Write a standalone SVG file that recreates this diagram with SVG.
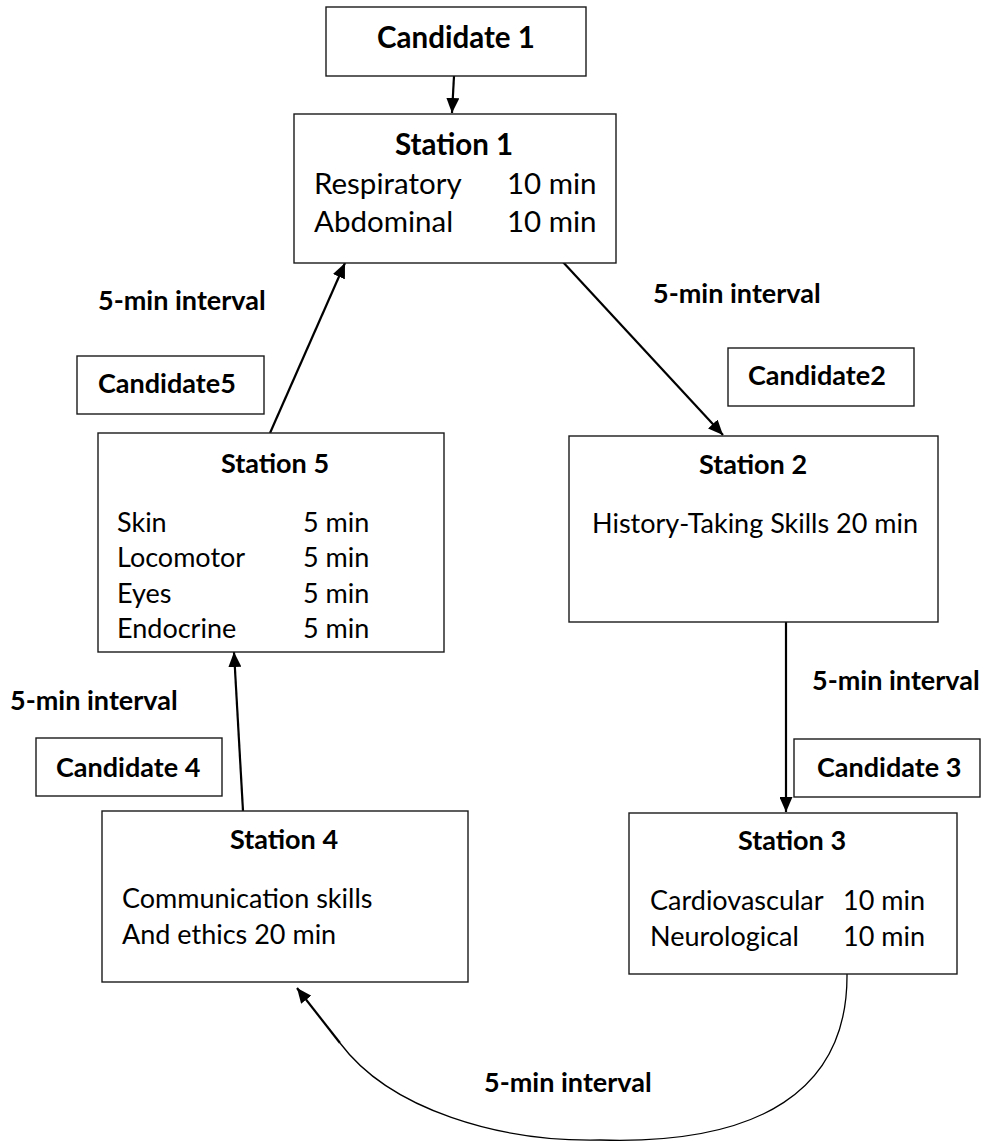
<svg xmlns="http://www.w3.org/2000/svg" width="987" height="1141" viewBox="0 0 987 1141">
<style>
  .box { fill: #ffffff; stroke: #1a1a1a; stroke-width: 1.4; }
  .t { font-family: Lato, "Open Sans", sans-serif; font-size: 27px; fill: #000; }
  .b { font-family: Lato, "Open Sans", sans-serif; font-size: 27px; font-weight: bold; fill: #000; }
  .big { font-size: 29.5px; }
  .c { text-anchor: middle; }
  .conn { fill: none; stroke: #000; stroke-width: 2.2; }
  .thin { fill: none; stroke: #000; stroke-width: 1.3; }
</style>
<defs>
  <marker id="ah" viewBox="0 0 15 13" refX="15" refY="6.5" markerWidth="15" markerHeight="13" markerUnits="userSpaceOnUse" orient="auto">
    <path d="M0,0 L15,6.5 L0,13 z" fill="#000"/>
  </marker>
</defs>
<rect width="987" height="1141" fill="#ffffff"/>

<g id="connectors">
  <line class="conn" x1="454" y1="76" x2="452" y2="113" marker-end="url(#ah)"/>
  <line class="conn" x1="270" y1="433" x2="345" y2="263" marker-end="url(#ah)"/>
  <line class="conn" x1="562" y1="261" x2="723" y2="435" marker-end="url(#ah)"/>
  <line class="conn" x1="786" y1="622" x2="786" y2="812" marker-end="url(#ah)"/>
  <line class="conn" x1="243" y1="811" x2="234" y2="652" marker-end="url(#ah)"/>
  <path class="thin" d="M847,974 C848,1090 760,1145 600,1140 C500,1142 390,1110 340,1043"/>
  <line class="conn" x1="340" y1="1043" x2="297" y2="988" marker-end="url(#ah)"/>
</g>

<g id="labels">
  <text class="b" x="98" y="310">5-min interval</text>
  <text class="b" x="653" y="303">5-min interval</text>
  <text class="b" x="812" y="690">5-min interval</text>
  <text class="b" x="10" y="710">5-min interval</text>
  <text class="b" x="484" y="1092">5-min interval</text>
</g>

<g id="candidate1">
  <rect class="box" x="326" y="7" width="260" height="69"/>
  <text class="b big c" x="456" y="48">Candidate 1</text>
</g>
<g id="candidate2">
  <rect class="box" x="728" y="348" width="186" height="58"/>
  <text class="b" x="748" y="385">Candidate2</text>
</g>
<g id="candidate3">
  <rect class="box" x="794" y="739" width="186" height="58"/>
  <text class="b" x="817" y="777">Candidate 3</text>
</g>
<g id="candidate4">
  <rect class="box" x="36" y="738" width="186" height="58"/>
  <text class="b" x="56" y="777">Candidate 4</text>
</g>
<g id="candidate5">
  <rect class="box" x="77" y="356" width="187" height="58"/>
  <text class="b" x="98" y="393">Candidate5</text>
</g>

<g id="station1">
  <rect class="box" x="294" y="114" width="322" height="149"/>
  <text class="b big c" x="454" y="155">Station 1</text>
  <text class="t big" x="314" y="194">Respiratory</text>
  <text class="t big" x="507" y="194">10 min</text>
  <text class="t big" x="314" y="232">Abdominal</text>
  <text class="t big" x="507" y="232">10 min</text>
</g>
<g id="station2">
  <rect class="box" x="569" y="436" width="369" height="186"/>
  <text class="b c" x="753" y="474">Station 2</text>
  <text class="t" x="592" y="533">History-Taking Skills 20 min</text>
</g>
<g id="station3">
  <rect class="box" x="629" y="813" width="328" height="161"/>
  <text class="b c" x="792" y="850">Station 3</text>
  <text class="t" x="650" y="910">Cardiovascular</text>
  <text class="t" x="843" y="910">10 min</text>
  <text class="t" x="650" y="946">Neurological</text>
  <text class="t" x="843" y="946">10 min</text>
</g>
<g id="station4">
  <rect class="box" x="102" y="811" width="366" height="171"/>
  <text class="b c" x="284" y="849">Station 4</text>
  <text class="t" x="122" y="908">Communication skills</text>
  <text class="t" x="122" y="944">And ethics 20 min</text>
</g>
<g id="station5">
  <rect class="box" x="98" y="433" width="346" height="219"/>
  <text class="b c" x="275" y="473">Station 5</text>
  <text class="t" x="117" y="532">Skin</text>
  <text class="t" x="303" y="532">5 min</text>
  <text class="t" x="117" y="567">Locomotor</text>
  <text class="t" x="303" y="567">5 min</text>
  <text class="t" x="117" y="603">Eyes</text>
  <text class="t" x="303" y="603">5 min</text>
  <text class="t" x="117" y="638">Endocrine</text>
  <text class="t" x="303" y="638">5 min</text>
</g>
</svg>
